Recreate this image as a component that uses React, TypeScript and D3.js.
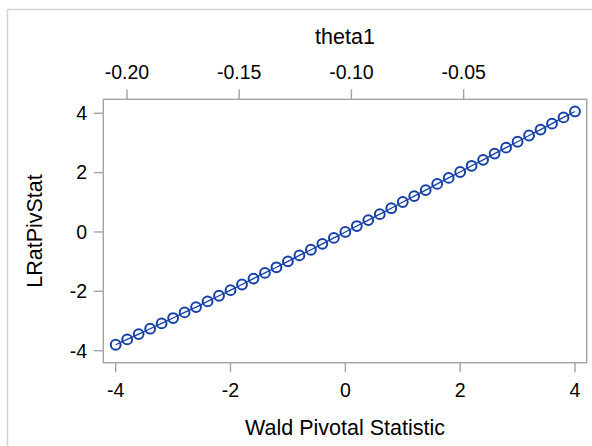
import React from "react";
import * as d3 from "d3";

const waldValues = [
  -4.0, -3.8, -3.6, -3.4, -3.2, -3.0, -2.8, -2.6, -2.4, -2.2, -2.0, -1.8, -1.6, -1.4,
  -1.2, -1.0, -0.8, -0.6, -0.4, -0.2, 0.0, 0.2, 0.4, 0.6, 0.8, 1.0, 1.2, 1.4, 1.6, 1.8,
  2.0, 2.2, 2.4, 2.6, 2.8, 3.0, 3.2, 3.4, 3.6, 3.8, 4.0,
];
const lratValues = [
  -3.8, -3.62, -3.44, -3.26, -3.08, -2.9, -2.71, -2.53, -2.34, -2.15, -1.96, -1.77, -1.57,
  -1.38, -1.19, -0.99, -0.79, -0.6, -0.4, -0.2, 0.0, 0.2, 0.4, 0.6, 0.8, 1.01, 1.21, 1.41,
  1.62, 1.82, 2.02, 2.23, 2.43, 2.64, 2.84, 3.04, 3.25, 3.45, 3.65, 3.86, 4.06,
];
const xTicks = [-4, -2, 0, 2, 4];
const yTicks = [-4, -2, 0, 2, 4];
const thetaTicks = [-0.2, -0.15, -0.1, -0.05];
const thetaTickLabels = ["-0.20", "-0.15", "-0.10", "-0.05"];
const thetaHat = -0.1027;
const thetaSE = 0.02558;

const xLabel = "Wald Pivotal Statistic";
const yLabel = "LRatPivStat";
const topLabel = "theta1";

export default function App() {
  const W = 592;
  const H = 446;
  const left = 103.3;
  const right = 586.7;
  const top = 99.3;
  const bottom = 362.7;
  const font = "Arial, 'Liberation Sans', Helvetica, sans-serif";

  const x = d3.scaleLinear().domain([-4.216, 4.204]).range([left, right]);
  const y = d3.scaleLinear().domain([-4.405, 4.47]).range([bottom, top]);
  const xTop = d3
    .scaleLinear()
    .domain(x.domain().map((w) => thetaHat + thetaSE * w))
    .range([left, right]);

  const pts = waldValues.map((w, i) => [w, lratValues[i]] as [number, number]);
  const line = d3
    .line<[number, number]>()
    .x((d) => x(d[0]))
    .y((d) => y(d[1]));

  const axisColor = "#a3a3a3";
  const markColor = "#1540a8";

  return (
    <svg
      width={W}
      height={H}
      style={{ position: "absolute", left: 0, top: 0, background: "#fff" }}
      fontFamily={font}
    >
      <rect x={7.5} y={9.5} width={W + 10} height={H + 10} fill="#fff" stroke="#d2d2d2" strokeWidth={1.5} />

      {/* top axis */}
      <text x={(left + right) / 2} y={44} textAnchor="middle" fontSize={21.5} fill="#000">
        {topLabel}
      </text>
      {thetaTicks.map((t, i) => (
        <g key={"tt" + i}>
          <line x1={xTop(t)} x2={xTop(t)} y1={top} y2={top - 10} stroke={axisColor} strokeWidth={1.4} />
          <text x={xTop(t)} y={79} textAnchor="middle" fontSize={19.5} fill="#000">
            {thetaTickLabels[i]}
          </text>
        </g>
      ))}

      {/* bottom axis */}
      {xTicks.map((t) => (
        <g key={"xt" + t}>
          <line x1={x(t)} x2={x(t)} y1={bottom} y2={bottom + 9.5} stroke={axisColor} strokeWidth={1.4} />
          <text x={x(t)} y={397} textAnchor="middle" fontSize={19.5} fill="#000">
            {t}
          </text>
        </g>
      ))}
      <text x={(left + right) / 2} y={435} textAnchor="middle" fontSize={21.5} fill="#000">
        {xLabel}
      </text>

      {/* left axis */}
      {yTicks.map((t) => (
        <g key={"yt" + t}>
          <line x1={left} x2={left - 9.5} y1={y(t)} y2={y(t)} stroke={axisColor} strokeWidth={1.4} />
          <text x={87} y={y(t)} dy="0.35em" textAnchor="end" fontSize={19.5} fill="#000">
            {t}
          </text>
        </g>
      ))}
      <text
        transform={`translate(41.5, ${(top + bottom) / 2}) rotate(-90)`}
        textAnchor="middle"
        fontSize={21.5}
        fill="#000"
      >
        {yLabel}
      </text>

      {/* frame */}
      <rect x={left} y={top} width={right - left} height={bottom - top} fill="none" stroke={axisColor} strokeWidth={1.4} />

      {/* series */}
      <path d={line(pts) || ""} fill="none" stroke={markColor} strokeWidth={1.3} />
      {pts.map((d, i) => (
        <circle key={i} cx={x(d[0])} cy={y(d[1])} r={4.9} fill="none" stroke={markColor} strokeWidth={2} />
      ))}
    </svg>
  );
}
